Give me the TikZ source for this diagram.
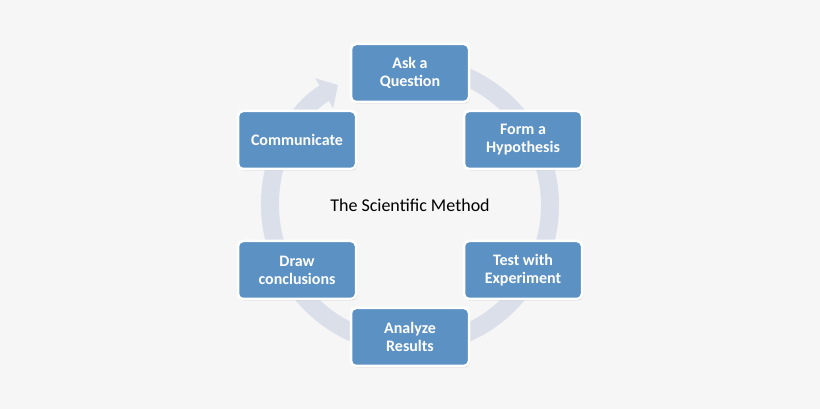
\documentclass[tikz,border=0pt]{standalone}
\usepackage{fontspec}
\setmainfont{Carlito}
\usetikzlibrary{arrows.meta,shadows,calc}
\definecolor{boxblue}{RGB}{92,145,196}
\definecolor{bg}{RGB}{246,246,246}
\definecolor{ring}{RGB}{218,223,234}
\begin{document}
\begin{tikzpicture}[x=1pt,y=1pt,
  stepbox/.style={draw=white,line width=2.5pt,rounded corners=5pt,fill=boxblue,
    minimum width=118pt,minimum height=58pt,text=white,font=\fontsize{16}{18}\selectfont\bfseries,align=center,
    drop shadow={shadow xshift=1pt,shadow yshift=-1.5pt,opacity=0.35}}]
\fill[bg] (0,0) rectangle (820,409);
\useasboundingbox (0,0) rectangle (820,409);
\coordinate (c) at (410,204);
\draw[ring,line width=18pt,-{Triangle[length=16pt,width=34pt]}]
  ($(c)+(100:140)$) arc[start angle=100,end angle=-239,radius=140];
\node[font=\fontsize{18}{20}\selectfont] (t) at (c) {The Scientific Method};
\node[stepbox] (a) at (410,336) {Ask a\\Question};
\node[stepbox] (b) at (523,269) {Form a\\Hypothesis};
\node[stepbox] (d) at (523,139) {Test with\\Experiment};
\node[stepbox] (e) at (410,72) {Analyze\\Results};
\node[stepbox] (f) at (297,139) {Draw\\conclusions};
\node[stepbox] (g) at (297,269) {Communicate};
\end{tikzpicture}
\end{document}
